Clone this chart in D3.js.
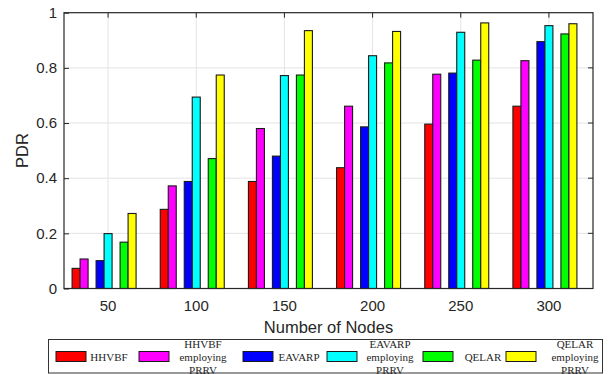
<!DOCTYPE html>
<html>
<head>
<meta charset="utf-8">
<script src="https://cdn.jsdelivr.net/npm/d3@7"></script>
<style>
  body { margin: 0; background: #fff; }
  svg { display: block; }
  .tick text { font-family: "Liberation Sans", Arial, sans-serif; font-size: 15px; fill: #262626; }
</style>
</head>
<body>
<script>
// categories (number of nodes)
var nodes = ["50", "100", "150", "200", "250", "300"];

// series names, legend text lines and colours
var seriesNames = ["HHVBF", "HHVBF employing PRRV", "EAVARP", "EAVARP employing PRRV", "QELAR", "QELAR employing PRRV"];
var colors = ["#ff0000", "#ff00ff", "#0000ff", "#00ffff", "#00ff00", "#ffff00"];

// PDR values
var hhvbf      = [0.073, 0.287, 0.388, 0.438, 0.596, 0.661];
var hhvbfPrrv  = [0.107, 0.372, 0.580, 0.661, 0.777, 0.826];
var eavarp     = [0.101, 0.388, 0.480, 0.586, 0.781, 0.895];
var eavarpPrrv = [0.199, 0.694, 0.772, 0.844, 0.929, 0.953];
var qelar      = [0.168, 0.471, 0.774, 0.818, 0.828, 0.923];
var qelarPrrv  = [0.272, 0.774, 0.935, 0.932, 0.963, 0.960];

var yTicks = [0, 0.2, 0.4, 0.6, 0.8, 1];

var series = [hhvbf, hhvbfPrrv, eavarp, eavarpPrrv, qelar, qelarPrrv];
// the original grouped bar has 9 slots per group, every third one empty
var slotOf = [0, 1, 3, 4, 6, 7];

var W = 611, H = 374;
var margin = { top: 12.7, right: 18, bottom: 85.5, left: 64 };
var width = W - margin.left - margin.right,
    height = H - margin.top - margin.bottom;

var svg = d3.select("body").append("svg")
    .attr("width", W)
    .attr("height", H);

var g = svg.append("g")
    .attr("transform", "translate(" + margin.left + "," + margin.top + ")");

var x0 = d3.scaleBand().domain(nodes).range([0, width]).paddingInner(0).paddingOuter(0);
var x1 = d3.scaleBand().domain(d3.range(9)).range([-36, 36]);
var y = d3.scaleLinear().domain([0, 1]).range([height, 0]);

// grid
g.append("g").selectAll("line.gy")
    .data(yTicks.slice(1, -1))
    .enter().append("line")
    .attr("x1", 0).attr("x2", width)
    .attr("y1", function (d) { return y(d); })
    .attr("y2", function (d) { return y(d); })
    .attr("stroke", "#e3e3e3").attr("stroke-width", 1);

g.append("g").selectAll("line.gx")
    .data(nodes)
    .enter().append("line")
    .attr("x1", function (d) { return x0(d) + x0.bandwidth() / 2; })
    .attr("x2", function (d) { return x0(d) + x0.bandwidth() / 2; })
    .attr("y1", 0).attr("y2", height)
    .attr("stroke", "#e3e3e3").attr("stroke-width", 1);

// bars
var groups = g.selectAll(".grp")
    .data(nodes)
    .enter().append("g")
    .attr("class", "grp")
    .attr("transform", function (d) { return "translate(" + (x0(d) + x0.bandwidth() / 2) + ",0)"; });

groups.selectAll("rect")
    .data(function (d, i) {
        return series.map(function (s, k) { return { k: k, v: s[i] }; });
    })
    .enter().append("rect")
    .attr("x", function (d) { return x1(slotOf[d.k]); })
    .attr("width", x1.bandwidth())
    .attr("y", function (d) { return y(d.v); })
    .attr("height", function (d) { return height - y(d.v); })
    .attr("fill", function (d) { return colors[d.k]; })
    .attr("stroke", "#1a1a1a")
    .attr("stroke-width", 1.1);

// axes
var xAxis = d3.axisBottom(x0).tickSize(0).tickPadding(12);
var yAxis = d3.axisLeft(y).tickValues(yTicks).tickFormat(d3.format("")).tickSize(-5).tickPadding(7);

g.append("g")
    .attr("transform", "translate(0," + height + ")")
    .call(xAxis)
    .call(function (s) { s.select(".domain").remove(); });

g.append("g")
    .call(yAxis)
    .call(function (s) {
        s.select(".domain").remove();
        s.selectAll(".tick line").attr("stroke", "#262626");
    });

// right ticks
g.append("g").selectAll("line")
    .data(yTicks.slice(1, -1))
    .enter().append("line")
    .attr("x1", width).attr("x2", width - 5)
    .attr("y1", function (d) { return y(d); })
    .attr("y2", function (d) { return y(d); })
    .attr("stroke", "#262626");

// top ticks
g.append("g").selectAll("line")
    .data(nodes)
    .enter().append("line")
    .attr("x1", function (d) { return x0(d) + x0.bandwidth() / 2; })
    .attr("x2", function (d) { return x0(d) + x0.bandwidth() / 2; })
    .attr("y1", 0).attr("y2", 5)
    .attr("stroke", "#262626");

// box
g.append("rect")
    .attr("width", width).attr("height", height)
    .attr("fill", "none")
    .attr("stroke", "#262626")
    .attr("stroke-width", 1.2);

// axis titles
svg.append("text")
    .attr("x", margin.left + width / 2)
    .attr("y", 332.5)
    .attr("text-anchor", "middle")
    .style("font-family", "'Liberation Sans', Arial, sans-serif")
    .style("font-size", "16.5px")
    .attr("fill", "#262626")
    .text("Number of Nodes");

svg.append("text")
    .attr("transform", "translate(28," + (margin.top + height / 2) + ") rotate(-90)")
    .attr("text-anchor", "middle")
    .style("font-family", "'Liberation Sans', Arial, sans-serif")
    .style("font-size", "16.5px")
    .attr("fill", "#262626")
    .text("PDR");

// legend
var legend = svg.append("g");
legend.append("rect")
    .attr("x", 48.5).attr("y", 339.5)
    .attr("width", 554).attr("height", 33.5)
    .attr("fill", "#fff")
    .attr("stroke", "#333")
    .attr("stroke-width", 1);

var swatchX = [56, 139, 243, 327, 423, 506];
var labelX = [109, 203, 299, 390, 483, 575];

var items = legend.selectAll(".item")
    .data(seriesNames)
    .enter().append("g")
    .attr("class", "item");

items.append("rect")
    .attr("x", function (d, i) { return swatchX[i]; })
    .attr("y", 351.5)
    .attr("width", 30).attr("height", 10)
    .attr("fill", function (d, i) { return colors[i]; })
    .attr("stroke", "#1a1a1a")
    .attr("stroke-width", 1);

items.each(function (d, i) {
    var words = d.indexOf(" employing ") > 0 ? [d.split(" ")[0], "employing", "PRRV"] : [d];
    var t = d3.select(this).append("text")
        .attr("text-anchor", "middle")
        .style("font-family", "'Liberation Serif', 'Times New Roman', serif")
        .style("font-size", "11px")
        .attr("fill", "#262626");
    var y0 = words.length === 1 ? 360.5 : 347.5;
    words.forEach(function (w, j) {
        t.append("tspan")
            .attr("x", labelX[i])
            .attr("y", y0 + j * 13)
            .text(w);
    });
});
</script>
</body>
</html>
